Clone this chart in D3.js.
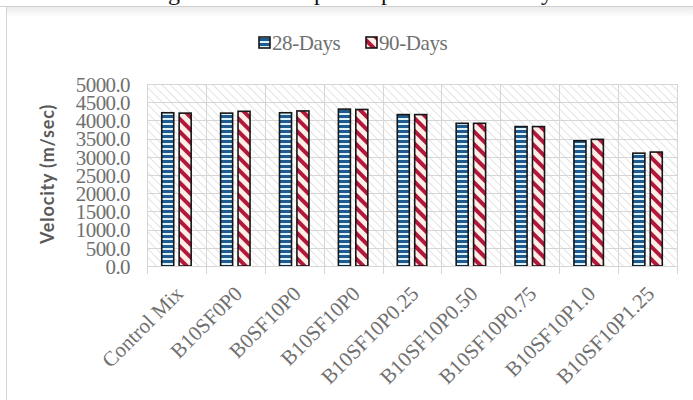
<!DOCTYPE html>
<html>
<head>
<meta charset="utf-8">
<script src="https://cdn.jsdelivr.net/npm/d3@7"></script>
<style>
  html, body { margin: 0; padding: 0; background: #fff; }
  svg { display: block; }
</style>
</head>
<body>
<svg id="chart" width="693" height="400"></svg>
<script>
const categories = ["Control Mix", "B10SF0P0", "B0SF10P0", "B10SF10P0", "B10SF10P0.25",
  "B10SF10P0.50", "B10SF10P0.75", "B10SF10P1.0", "B10SF10P1.25"];
const seriesNames = ["28-Days", "90-Days"];
const days28 = [4210, 4200, 4210, 4310, 4160, 3920, 3830, 3440, 3100];
const days90 = [4200, 4250, 4260, 4300, 4160, 3920, 3830, 3480, 3130];
const yTicks = [0, 500, 1000, 1500, 2000, 2500, 3000, 3500, 4000, 4500, 5000];

const svg = d3.select("#chart");
const W = 693, H = 400;
const M = { left: 147, right: 677, top: 84, bottom: 266 };
const textColor = "#707070";
const serif = "'Liberation Serif', 'Times New Roman', serif";

// patterns
const defs = svg.append("defs");
const bg = defs.append("pattern").attr("id", "bgHatch").attr("patternUnits", "userSpaceOnUse")
  .attr("width", 6).attr("height", 6).attr("patternTransform", "rotate(-45)");
bg.append("rect").attr("width", 6).attr("height", 6).attr("fill", "#ffffff");
bg.append("rect").attr("x", 0).attr("width", 1).attr("height", 6).attr("fill", "#e3e3e3");

const pb = defs.append("pattern").attr("id", "blueStripe").attr("patternUnits", "userSpaceOnUse")
  .attr("width", 10).attr("height", 5);
pb.append("rect").attr("width", 10).attr("height", 5).attr("fill", "#dcf3fb");
pb.append("rect").attr("y", 0).attr("width", 10).attr("height", 3).attr("fill", "#1f5b8e");

const pr = defs.append("pattern").attr("id", "redStripe").attr("patternUnits", "userSpaceOnUse")
  .attr("width", 9).attr("height", 9).attr("patternTransform", "rotate(-45)");
pr.append("rect").attr("width", 9).attr("height", 9).attr("fill", "#fdeee6");
pr.append("rect").attr("x", 0).attr("width", 4).attr("height", 9).attr("fill", "#b3173c");

const grad = defs.append("linearGradient").attr("id", "topGrad").attr("x1", 0).attr("y1", 0).attr("x2", 0).attr("y2", 1);
grad.append("stop").attr("offset", "0%").attr("stop-color", "#ececec");
grad.append("stop").attr("offset", "100%").attr("stop-color", "#ffffff");

// cut-off heading descenders at the very top
const headLetters = [["g", 168], ["p", 314], ["p", 381], ["y", 541]];
svg.selectAll("text.head").data(headLetters).enter().append("text")
  .attr("class", "head").attr("x", d => d[1]).attr("y", 0)
  .attr("font-family", serif).attr("font-size", 24).attr("fill", "#111")
  .text(d => d[0]);

// chart frame
svg.append("rect").attr("x", 6.5).attr("y", 7).attr("width", W).attr("height", 10).attr("fill", "url(#topGrad)");
svg.append("line").attr("x1", 0).attr("x2", W).attr("y1", 6.5).attr("y2", 6.5).attr("stroke", "#cfcfcf");
svg.append("line").attr("x1", 6.5).attr("x2", 6.5).attr("y1", 7).attr("y2", H).attr("stroke", "#d4d4d4");

// scales
const x0 = d3.scaleBand().domain(categories).range([M.left, M.right]).padding(0);
const x1 = d3.scaleBand().domain(seriesNames).range([x0.bandwidth() * 0.25, x0.bandwidth() * 0.75]).paddingInner(0.31).paddingOuter(0);
const y = d3.scaleLinear().domain([0, 5000]).range([M.bottom, M.top]);

// plot background
svg.append("rect").attr("x", M.left).attr("y", M.top).attr("width", M.right - M.left).attr("height", M.bottom - M.top)
  .attr("fill", "url(#bgHatch)");

// gridlines
svg.append("g").selectAll("line").data(yTicks).enter().append("line")
  .attr("x1", M.left).attr("x2", M.right)
  .attr("y1", d => Math.round(y(d)) + 0.5).attr("y2", d => Math.round(y(d)) + 0.5)
  .attr("stroke", "#d6d6d6").attr("stroke-width", 1);
const bounds = categories.map(c => x0(c)).concat([M.right]);
svg.append("g").selectAll("line").data(bounds).enter().append("line")
  .attr("x1", d => Math.round(d) + 0.5).attr("x2", d => Math.round(d) + 0.5)
  .attr("y1", M.top).attr("y2", M.bottom + 8)
  .attr("stroke", "#d6d6d6").attr("stroke-width", 1);

// bars
const data = categories.map((c, i) => ({ c, vals: [days28[i], days90[i]] }));
const groups = svg.append("g").selectAll("g").data(data).enter().append("g")
  .attr("transform", d => `translate(${x0(d.c)},0)`);
groups.selectAll("rect").data(d => d.vals.map((v, j) => ({ s: seriesNames[j], v }))).enter().append("rect")
  .attr("x", d => x1(d.s))
  .attr("y", d => y(d.v))
  .attr("width", x1.bandwidth())
  .attr("height", d => y(0) - y(d.v))
  .attr("fill", d => d.s === "28-Days" ? "url(#blueStripe)" : "url(#redStripe)")
  .attr("stroke", "#161616").attr("stroke-width", 1.6);

// y axis labels
const yAxis = d3.axisLeft(y).tickValues(yTicks).tickFormat(d3.format(".1f")).tickSize(0).tickPadding(0);
const gy = svg.append("g").attr("transform", `translate(${130},0)`).call(yAxis);
gy.select(".domain").remove();
gy.selectAll("text").attr("font-family", serif).attr("font-size", 21).attr("fill", textColor)
  .attr("letter-spacing", -0.6).attr("dy", "0.35em");

// x axis labels
const xAxis = d3.axisBottom(x0).tickSize(0).tickPadding(0);
const gx = svg.append("g").attr("transform", `translate(0,${M.bottom})`).call(xAxis);
gx.select(".domain").attr("stroke", "#d6d6d6");
gx.selectAll("text")
  .attr("font-family", serif).attr("font-size", 21).attr("fill", textColor)
  .attr("text-anchor", "end").attr("dy", null).attr("y", null)
  .attr("transform", "translate(8,29) rotate(-45)");

// y axis title
svg.append("text")
  .attr("transform", `translate(${54},${174}) rotate(-90)`)
  .attr("text-anchor", "middle")
  .attr("font-family", "Lato, 'Open Sans', sans-serif").attr("font-weight", "bold")
  .attr("font-size", 18).attr("fill", "#595959").attr("letter-spacing", 0.8)
  .text("Velocity  (m/sec)");

// legend
const legend = svg.append("g").attr("transform", "translate(259,43)");
const legItems = [{ s: "28-Days", fill: "url(#blueStripe)", x: 0 }, { s: "90-Days", fill: "url(#redStripe)", x: 107 }];
const li = legend.selectAll("g").data(legItems).enter().append("g").attr("transform", d => `translate(${d.x},0)`);
li.append("rect").attr("x", 0).attr("y", -6).attr("width", 11).attr("height", 11)
  .attr("fill", d => d.fill).attr("stroke", "#161616").attr("stroke-width", 1.6);
li.append("text").attr("x", 13).attr("y", 0).attr("dy", "0.35em")
  .attr("font-family", serif).attr("font-size", 21).attr("fill", textColor)
  .attr("letter-spacing", -0.4)
  .text(d => d.s);
</script>
</body>
</html>
